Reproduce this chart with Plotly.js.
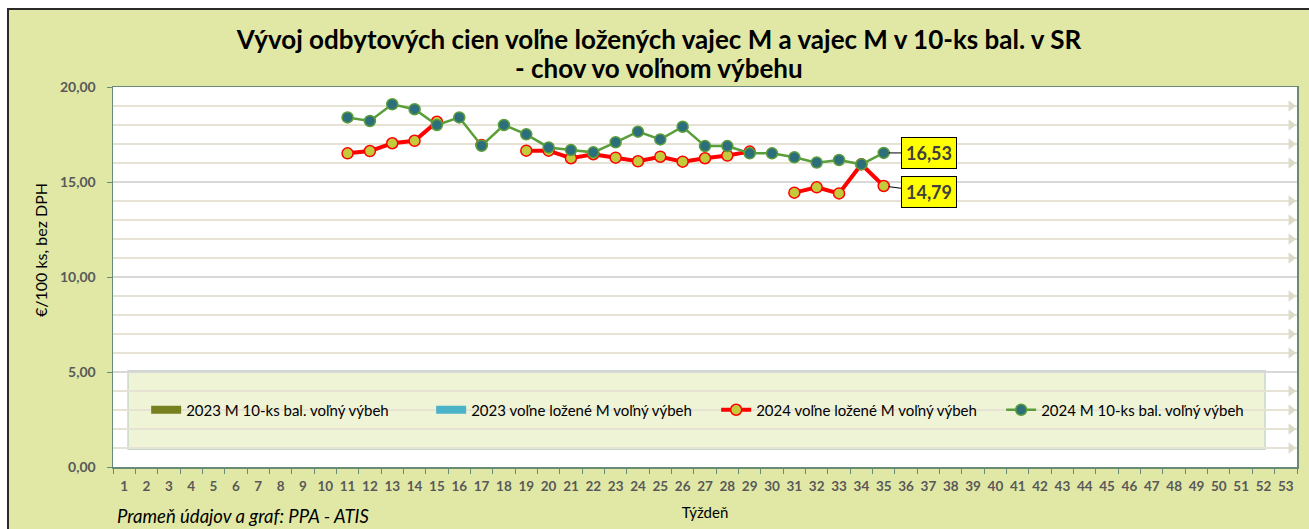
<!DOCTYPE html>
<html>
<head>
<meta charset="utf-8">
<script src="https://cdn.plot.ly/plotly-3.0.1.min.js"></script>
<style>
  html, body { margin: 0; padding: 0; background: #ffffff; width: 1309px; height: 529px; overflow: hidden; }
  #frame { position: absolute; left: 7px; top: 8px; width: 1302px; height: 521px;
           border-left: 2px solid #2a2a2a; border-top: 2px solid #2a2a2a; background: #e1e8a5; }
  #chart { width: 1300px; height: 519px; }
</style>
</head>
<body>
<div id="frame"><div id="chart"></div></div>
<script>
// ---- data ----
const weekLabels = ['1','2','3','4','5','6','7','8','9','10','11','12','13','14','15','16','17','18','19','20',
  '21','22','23','24','25','26','27','28','29','30','31','32','33','34','35','36','37','38','39','40',
  '41','42','43','44','45','46','47','48','49','50','51','52','53'];

const weeks2024 = ['11','12','13','14','15','16','17','18','19','20','21','22','23','24','25','26','27','28','29','30','31','32','33','34','35'];

// 2024 voľne ložené M voľný výbeh
const loose2024 = [16.51, 16.63, 17.04, 17.17, 18.17, null, 16.95, null, 16.65, 16.65, 16.25, 16.46, 16.28,
                   16.09, 16.33, 16.07, 16.25, 16.39, 16.60, null, 14.44, 14.72, 14.40, 15.93, 14.79];
// 2024 M 10-ks bal. voľný výbeh
const pack2024 = [18.40, 18.21, 19.09, 18.83, 18.00, 18.40, 16.91, 18.00, 17.51, 16.82, 16.68, 16.56, 17.09,
                  17.65, 17.24, 17.91, 16.89, 16.89, 16.51, 16.51, 16.30, 16.02, 16.16, 15.93, 16.53];
// 2023 series: no values are drawn in the chart (legend only)
const weeks2023 = ['1'];
const pack2023 = [null];
const loose2023 = [null];

const seriesNames = ['2023 M 10-ks bal. voľný výbeh', '2023 voľne ložené M voľný výbeh',
                     '2024 voľne ložené M voľný výbeh', '2024 M 10-ks bal. voľný výbeh'];

const titleLine1 = 'Vývoj odbytových cien voľne ložených vajec M a vajec M v 10-ks bal. v SR';
const titleLine2 = '- chov vo voľnom výbehu';
const yTitle = '€/100 ks, bez DPH';
const xTitle = 'Týždeň';
const sourceText = 'Prameň údajov a graf: PPA - ATIS';

// ---- decoration: arrow heads at end of minor gridlines ----
const minorVals = [];
for (let v = 1; v < 20; v++) { if (v % 5 !== 0) minorVals.push(v); }

const FONT = 'Lato, Carlito, Calibri, "Liberation Sans", sans-serif';

const traces = [
  { type: 'scatter', mode: 'lines', name: seriesNames[0], x: weeks2023, y: pack2023,
    line: { color: '#77801f', width: 8 }, showlegend: true, hoverinfo: 'skip' },
  { type: 'scatter', mode: 'lines', name: seriesNames[1], x: weeks2023, y: loose2023,
    line: { color: '#4bb3c8', width: 8 }, showlegend: true, hoverinfo: 'skip' },
  { type: 'scatter', mode: 'lines+markers', name: seriesNames[2], x: weeks2024, y: loose2024,
    connectgaps: false,
    line: { color: '#ff0000', width: 4 },
    marker: { size: 11, color: '#c3cb3c', line: { color: '#ff0000', width: 1.5 } } },
  { type: 'scatter', mode: 'lines+markers', name: seriesNames[3], x: weeks2024, y: pack2024,
    line: { color: '#5a9e3a', width: 2.5 },
    marker: { size: 11, color: '#2d6e7c', line: { color: '#5a9e3a', width: 1.5 } } },
  { type: 'scatter', mode: 'markers', x: minorVals.map(() => 0.995), y: minorVals, xaxis: 'x2',
    marker: { symbol: 'triangle-right', size: 10, color: '#dedac8' }, showlegend: false, hoverinfo: 'skip', cliponaxis: false }
];

const lastIdx = weeks2024.length - 1;
const lastCat = weekLabels.indexOf(weeks2024[lastIdx]);
const fmt = v => v.toFixed(2).replace('.', ',');

const layout = {
  width: 1300, height: 519,
  paper_bgcolor: '#e1e8a5',
  plot_bgcolor: '#ffffff',
  margin: { l: 104, r: 12, t: 77, b: 62 },
  separators: ', ',
  font: { family: FONT, color: '#000000' },
  title: {
    text: titleLine1,
    font: { family: FONT, size: 26, weight: 'bold', color: '#000000' },
    x: 0.5, xanchor: 'center', y: 1 - 30 / 519, yanchor: 'middle', yref: 'container'
  },
  xaxis: {
    type: 'category', categoryorder: 'array', categoryarray: weekLabels,
    range: [-0.5, 52.5], tickson: 'boundaries', ticks: 'outside', ticklen: 5, tickcolor: '#6a8a78',
    showline: true, linecolor: '#6a8a78', linewidth: 1.5, mirror: true,
    showgrid: false, zeroline: false, tickangle: 0,
    tickfont: { family: FONT, size: 13.5, weight: 'bold', color: '#595959' },
    ticklabelstandoff: 6,
    title: { text: xTitle, font: { family: FONT, size: 15, color: '#000000' }, standoff: 15 },
    fixedrange: true
  },
  xaxis2: { overlaying: 'x', range: [0, 1], visible: false, fixedrange: true },
  yaxis: {
    range: [0, 20], dtick: 5, tickformat: '.2f',
    ticks: 'outside', ticklen: 5, tickcolor: '#6a8a78',
    showline: true, linecolor: '#6a8a78', linewidth: 1.5, mirror: true,
    showgrid: true, gridcolor: '#d8d8d8', gridwidth: 1.5, zeroline: false,
    minor: { dtick: 1, showgrid: true, gridcolor: '#e6e2d4', gridwidth: 1.5, ticks: '' },
    tickfont: { family: FONT, size: 14, weight: 'bold', color: '#595959' },
    ticklabelstandoff: 8,
    fixedrange: true
  },
  showlegend: true,
  legend: {
    orientation: 'h', x: 0.028, xanchor: 'left', y: 0.15, yanchor: 'middle',
    bgcolor: 'rgba(0,0,0,0)', borderwidth: 0,
    entrywidth: 240, entrywidthmode: 'pixels',
    font: { family: FONT, size: 15, color: '#000000' },
    itemclick: false, itemdoubleclick: false
  },
  shapes: [
    { type: 'rect', xref: 'paper', yref: 'paper', x0: 0.0127, x1: 0.973, y0: 0.047, y1: 0.253,
      fillcolor: '#f0f4d6', line: { color: '#c9d8cc', width: 1.5 }, layer: 'between' }
  ],
  annotations: [
    { x: 0.461, y: 1 + (77 - 58) / 380, xref: 'paper', yref: 'paper', xanchor: 'center', yanchor: 'middle',
      showarrow: false, text: titleLine2, font: { family: FONT, size: 26, weight: 'bold', color: '#000000' } },
    { x: -0.0617, y: 0.571, xref: 'paper', yref: 'paper', xanchor: 'center', yanchor: 'middle', textangle: -90,
      showarrow: false, text: yTitle, font: { family: FONT, size: 16, color: '#000000' } },
    { x: lastCat, y: pack2024[lastIdx], xref: 'x', yref: 'y', text: '<b>' + fmt(pack2024[lastIdx]) + '</b>',
      showarrow: true, arrowhead: 0, arrowwidth: 1, arrowcolor: '#000000', ax: 45, ay: 0, standoff: 5,
      bgcolor: '#ffff00', bordercolor: '#000000', borderwidth: 1, borderpad: 4,
      font: { family: FONT, size: 18, color: '#404040' } },
    { x: lastCat, y: loose2024[lastIdx], xref: 'x', yref: 'y', text: '<b>' + fmt(loose2024[lastIdx]) + '</b>',
      showarrow: true, arrowhead: 0, arrowwidth: 1, arrowcolor: '#000000', ax: 45, ay: 6, standoff: 5,
      bgcolor: '#ffff00', bordercolor: '#000000', borderwidth: 1, borderpad: 4,
      font: { family: FONT, size: 18, color: '#404040' } },
    { x: 0.002, y: -0.129, xref: 'paper', yref: 'paper', xanchor: 'left', yanchor: 'middle', showarrow: false,
      text: '<i>' + sourceText + '</i>', font: { family: FONT, size: 18.5, color: '#000000' } }
  ]
};

Plotly.newPlot('chart', traces, layout, { displayModeBar: false, staticPlot: true });
</script>
</body>
</html>
